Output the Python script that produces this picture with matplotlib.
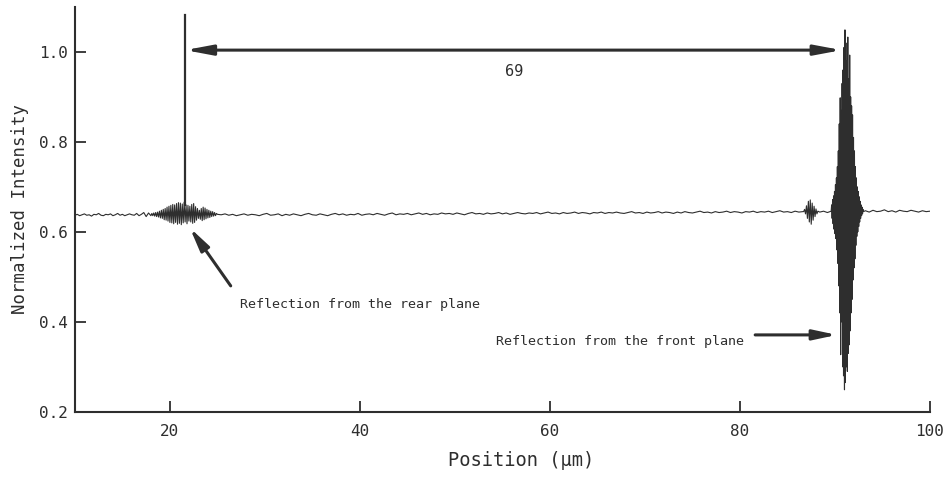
import matplotlib.pyplot as plt
import numpy as np

# --- data (normalized intensity vs position in um) ---
# baseline before the rear-plane packet, 10.0 .. 18.0 um
base_left = [0.637, 0.639, 0.636, 0.638, 0.640, 0.637, 0.638, 0.635, 0.639, 0.638,
             0.641, 0.637, 0.636, 0.639, 0.638, 0.640, 0.636, 0.638, 0.641, 0.637,
             0.639, 0.636, 0.638, 0.640, 0.638, 0.637, 0.641, 0.636, 0.639, 0.643,
             0.634, 0.642, 0.636]

# rear-plane interference packet, 18.1 .. 25.0 um
rear_packet = [0.641, 0.636, 0.642, 0.635, 0.643, 0.634, 0.644, 0.633, 0.646,
               0.631, 0.648, 0.630, 0.650, 0.627, 0.652, 0.626, 0.655, 0.624, 0.657,
               0.621, 0.659, 0.620, 0.661, 0.618, 0.660, 0.621, 0.663, 0.617, 0.665,
               0.619, 0.664, 0.616, 0.662, 0.620, 0.666, 0.622, 0.660, 0.618, 0.659,
               0.624, 0.657, 0.622, 0.661, 0.619, 0.663, 0.621, 0.656, 0.626, 0.652,
               0.630, 0.648, 0.628, 0.652, 0.625, 0.655, 0.627, 0.653, 0.629, 0.650,
               0.631, 0.648, 0.632, 0.646, 0.634, 0.645, 0.635, 0.643, 0.636, 0.641,
               0.639]

# long flat stretch, 25.4 .. 86.6 um
base_mid = [0.638, 0.640, 0.637, 0.639, 0.636, 0.638, 0.640, 0.637, 0.639, 0.638,
            0.636, 0.639, 0.641, 0.637, 0.638, 0.640, 0.636, 0.639, 0.637, 0.640,
            0.638, 0.636, 0.639, 0.641, 0.638, 0.637, 0.640, 0.638, 0.636, 0.639,
            0.641, 0.638, 0.640, 0.637, 0.639, 0.638, 0.641, 0.637, 0.639, 0.640,
            0.638, 0.641, 0.639, 0.637, 0.640, 0.642, 0.638, 0.640, 0.639, 0.641,
            0.638, 0.640, 0.642, 0.639, 0.641, 0.638, 0.640, 0.639, 0.642, 0.640,
            0.641, 0.639, 0.642, 0.640, 0.638, 0.641, 0.643, 0.640, 0.641, 0.639,
            0.642, 0.640, 0.641, 0.643, 0.640, 0.642, 0.639, 0.641, 0.643, 0.641,
            0.640, 0.642, 0.641, 0.643, 0.640, 0.642, 0.644, 0.641, 0.642, 0.640,
            0.643, 0.641, 0.642, 0.644, 0.641, 0.643, 0.642, 0.640, 0.643, 0.642,
            0.644, 0.641, 0.643, 0.642, 0.644, 0.642, 0.641, 0.643, 0.645, 0.642,
            0.643, 0.641, 0.644, 0.642, 0.643, 0.645, 0.642, 0.644, 0.643, 0.641,
            0.644, 0.642, 0.645, 0.643, 0.642, 0.644, 0.646, 0.643, 0.644, 0.642,
            0.645, 0.643, 0.644, 0.646, 0.643, 0.645, 0.644, 0.642, 0.645, 0.644,
            0.646, 0.643, 0.645, 0.644, 0.646, 0.643, 0.645, 0.647, 0.644, 0.645,
            0.643, 0.646, 0.644, 0.645]

# small ghost packet, 86.7 .. 88.2 um
ghost_packet = [0.645, 0.650, 0.640, 0.658, 0.630, 0.668, 0.622, 0.671, 0.617, 0.664,
                0.626, 0.657, 0.634, 0.651, 0.640, 0.646]

# short gap, 88.4 .. 89.2 um
base_gap = [0.644, 0.646, 0.643]

# front-plane packet, 89.6 .. 93.0 um
front_packet = [0.646, 0.660, 0.630, 0.672, 0.618, 0.680, 0.606, 0.690, 0.596, 0.705,
                0.585, 0.720, 0.560, 0.745, 0.530, 0.780, 0.480, 0.840, 0.420, 0.898,
                0.327, 0.870, 0.400, 0.930, 0.300, 0.960, 0.280, 1.010, 0.249, 1.049,
                0.265, 1.020, 0.300, 0.980, 0.290, 1.033, 0.330, 0.940, 0.349, 0.993,
                0.380, 0.900, 0.420, 0.880, 0.450, 0.860, 0.493, 0.810, 0.520, 0.780,
                0.540, 0.745, 0.570, 0.720, 0.590, 0.700, 0.600, 0.690, 0.612, 0.678,
                0.622, 0.668, 0.630, 0.660, 0.636, 0.655, 0.640, 0.650, 0.645]

# tail, 93.2 .. 100.0 um
base_right = [0.647, 0.644, 0.648, 0.645, 0.646, 0.649, 0.645, 0.647, 0.644, 0.648,
              0.646, 0.645, 0.648, 0.646, 0.644, 0.647, 0.645, 0.646]

segments = [(10.0, 18.0, base_left), (18.1, 25.0, rear_packet), (25.4, 86.6, base_mid),
            (86.7, 88.2, ghost_packet), (88.4, 89.2, base_gap), (89.6, 93.0, front_packet),
            (93.2, 100.0, base_right)]

pos = np.concatenate([np.linspace(a, b, len(v)) for a, b, v in segments])
inten = np.concatenate([np.array(v) for _, _, v in segments])

rear_x, front_x = 21.6, 90.7
thickness = 69

ink = '#2e2e2e'
mono = 'DejaVu Sans Mono'
note_size = 9.6

fig = plt.figure(figsize=(9.48, 4.95), dpi=100)
ax = fig.add_axes([0.079, 0.168, 0.902, 0.818])

ax.plot(pos, inten, color=ink, lw=0.8)

# marker line at the rear plane and the dimension arrow
ax.plot([rear_x, rear_x], [0.66, 1.082], color=ink, lw=1.6)
ax.annotate('', xy=(rear_x, 1.004), xytext=(front_x, 1.004),
            arrowprops=dict(arrowstyle='<|-|>,head_length=1.6,head_width=0.3',
                            color=ink, lw=2.2, shrinkA=0, shrinkB=0))
ax.text(56.2, 0.956, str(thickness), fontsize=11, family=mono, color=ink,
        ha='center', va='center')

ax.annotate('', xy=(22.1, 0.609), xytext=(26.4, 0.480),
            arrowprops=dict(arrowstyle='-|>,head_length=1.4,head_width=0.3',
                            color=ink, lw=2.2, shrinkA=0, shrinkB=0))
ax.text(27.4, 0.438, 'Reflection from the rear plane', fontsize=note_size, family=mono,
        color=ink, ha='left', va='center')

ax.annotate('', xy=(90.2, 0.371), xytext=(81.6, 0.371),
            arrowprops=dict(arrowstyle='-|>,head_length=1.4,head_width=0.3',
                            color=ink, lw=2.2, shrinkA=0, shrinkB=0))
ax.text(54.3, 0.356, 'Reflection from the front plane', fontsize=note_size, family=mono,
        color=ink, ha='left', va='center')

ax.set_xlim(10, 100)
ax.set_ylim(0.2, 1.1)
ax.set_xticks([20, 40, 60, 80, 100])
ax.set_yticks([0.2, 0.4, 0.6, 0.8, 1.0])
ax.set_yticklabels(['0.2', '0.4', '0.6', '0.8', '1.0'])
ax.tick_params(direction='in', length=8, width=1.3, color=ink, labelcolor=ink,
               labelsize=11.5)
ax.tick_params(axis='x', pad=9)
ax.tick_params(axis='y', pad=5)
for lab in ax.get_xticklabels() + ax.get_yticklabels():
    lab.set_family(mono)

for side in ['top', 'right']:
    ax.spines[side].set_visible(False)
for side in ['left', 'bottom']:
    ax.spines[side].set_color(ink)
    ax.spines[side].set_linewidth(1.5)

ax.set_ylabel('Normalized Intensity', fontsize=12.5, family=mono, color=ink)
ax.yaxis.set_label_coords(-0.054, 0.5)
ax.set_xlabel('Position (μm)', fontsize=13.5, family=mono, color=ink)
ax.xaxis.set_label_coords(0.522, -0.097)

fig.savefig('out.png', dpi=100)
